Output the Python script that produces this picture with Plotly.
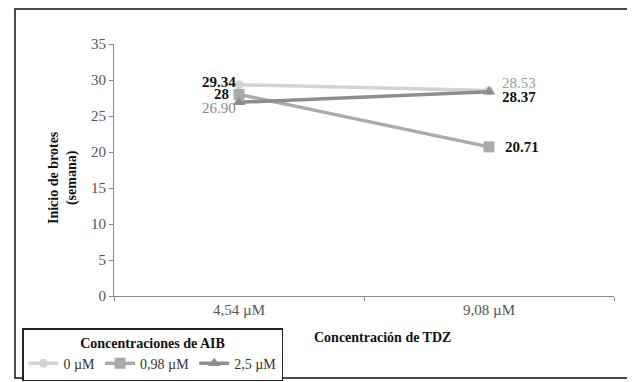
import plotly.graph_objects as go

categories = ["4,54 µM", "9,08 µM"]
series_names = ["0 µM", "0,98 µM", "2,5 µM"]
values_0 = [29.34, 28.53]
values_098 = [28.0, 20.71]
values_25 = [26.90, 28.37]
labels_0 = ["29.34", "28.53"]
labels_098 = ["28", "20.71"]
labels_25 = ["26.90", "28.37"]
y_ticks = [0, 5, 10, 15, 20, 25, 30, 35]

FONT = "Liberation Serif, Times New Roman, serif"

fig = go.Figure()
fig.add_trace(go.Scatter(x=categories, y=values_0, name=series_names[0], mode="lines+markers",
                         line=dict(color="#d3d3d3", width=3.5),
                         marker=dict(symbol="circle", size=9, color="#d3d3d3")))
fig.add_trace(go.Scatter(x=categories, y=values_098, name=series_names[1], mode="lines+markers",
                         line=dict(color="#ababab", width=3.5),
                         marker=dict(symbol="square", size=11, color="#ababab")))
fig.add_trace(go.Scatter(x=categories, y=values_25, name=series_names[2], mode="lines+markers",
                         line=dict(color="#8e8e8e", width=3.5),
                         marker=dict(symbol="triangle-up", size=11, color="#8e8e8e")))

# data labels
def lab(x, y, text, color, bold, xanchor, xshift, yshift):
    t = f"<b>{text}</b>" if bold else text
    fig.add_annotation(x=x, y=y, xref="x", yref="y", text=t, showarrow=False,
                       xanchor=xanchor, yanchor="middle", xshift=xshift, yshift=yshift,
                       font=dict(family=FONT, size=15, color=color))

lab(categories[0], values_0[0], labels_0[0], "#111111", True, "right", -1, 3)
lab(categories[0], values_098[0], labels_098[0], "#111111", True, "right", -8, 0)
lab(categories[0], values_25[0], labels_25[0], "#8a8a8a", False, "right", -1, -6)
lab(categories[1], values_0[1], labels_0[1], "#9a9a9a", False, "left", 11, 8)
lab(categories[1], values_25[1], labels_25[1], "#111111", True, "left", 11, -5)
lab(categories[1], values_098[1], labels_098[1], "#111111", True, "left", 14, 0)

# the page body adds an 8px offset; work in reference-pixel coordinates minus 8
OFF = 8
L, R, T, B = 114 - OFF, 21, 44 - OFF, 86
W, H = 635 - OFF, 382 - OFF
pw, ph = W - L - R, H - T - B

def px(x):
    return (x - OFF - L) / pw

def py(y):
    return (H - B - (y - OFF)) / ph

# outer border (top edge kept just inside the figure)
fig.add_shape(type="rect", xref="paper", yref="paper",
              x0=px(15), x1=px(632), y0=py(378), y1=py(OFF + 1),
              line=dict(color="#111111", width=1.5), layer="below")

# x axis title
fig.add_annotation(x=px(382), y=py(337), xref="paper", yref="paper",
                   text="<b>Concentración de TDZ</b>", showarrow=False,
                   xanchor="center", yanchor="middle",
                   font=dict(family=FONT, size=14, color="#111111"))

# y axis title
fig.add_annotation(x=px(63), y=py(178), xref="paper", yref="paper",
                   text="<b>Inicio de brotes<br>(semana)</b>", showarrow=False,
                   textangle=-90, xanchor="center", yanchor="middle",
                   font=dict(family=FONT, size=14, color="#111111"))

fig.update_layout(
    width=W, height=H,
    margin=dict(l=L, r=R, t=T, b=B, autoexpand=False),
    paper_bgcolor="white", plot_bgcolor="white",
    font=dict(family=FONT, size=14, color="#555555"),
    showlegend=True,
    legend=dict(
        orientation="h", x=px(22), y=py(328), xanchor="left", yanchor="top",
        bordercolor="#222222", borderwidth=1.5, bgcolor="white",
        title=dict(text="<b>Concentraciones de AIB</b>", side="top center",
                   font=dict(family=FONT, size=14, color="#111111")),
        font=dict(family=FONT, size=14, color="#333333"),
        tracegroupgap=0, itemwidth=30,
    ),
    xaxis=dict(
        type="category", range=[-0.5, 1.5], showline=True, linecolor="#8a8a8a", linewidth=1,
        ticks="outside", tickson="boundaries", ticklen=4, tickcolor="#8a8a8a",
        showgrid=False, zeroline=False, automargin=False,
        tickfont=dict(family=FONT, size=15, color="#555555"),
    ),
    yaxis=dict(
        range=[0, 35], tickvals=y_ticks, showline=True, linecolor="#8a8a8a", linewidth=1,
        ticks="outside", ticklen=4, tickcolor="#8a8a8a", showgrid=False, zeroline=False,
        automargin=False,
        tickfont=dict(family=FONT, size=15, color="#555555"),
    ),
)

fig.write_html("out.html")
